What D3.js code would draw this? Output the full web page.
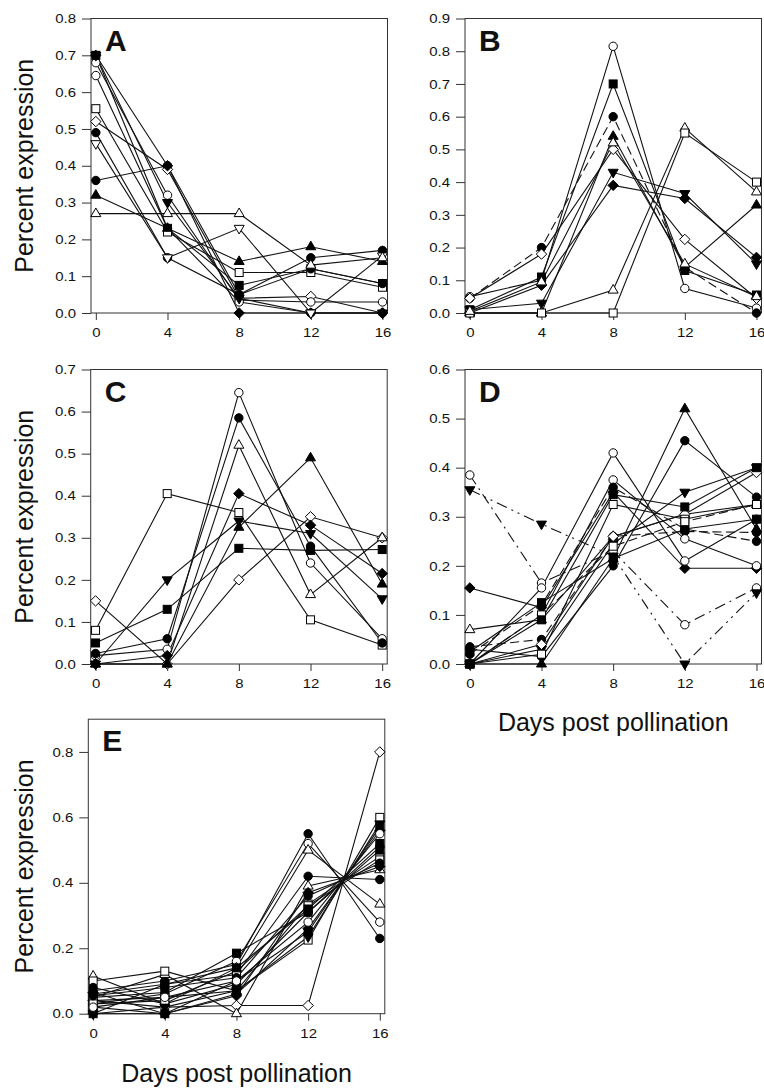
<!DOCTYPE html>
<html><head><meta charset="utf-8">
<script src="https://cdn.jsdelivr.net/npm/d3@7"></script>
<style>
body{margin:0;background:#fff}
svg{display:block}
text{font-family:"Liberation Sans",Arial,Helvetica,sans-serif;fill:#111}
</style>
</head><body>
<svg id="chart" width="764" height="1088"></svg>
<script>
// ---------------- DATA ----------------
const days = [0, 4, 8, 12, 16];
const xTickLabels = [0, 4, 8, 12, 16];
const panelLabels = ["A", "B", "C", "D", "E"];
const yAxisTitle = "Percent expression";
const xAxisTitle = "Days post pollination";

const yTicksA = [0, 0.1, 0.2, 0.3, 0.4, 0.5, 0.6, 0.7, 0.8];
const yTicksB = [0, 0.1, 0.2, 0.3, 0.4, 0.5, 0.6, 0.7, 0.8, 0.9];
const yTicksC = [0, 0.1, 0.2, 0.3, 0.4, 0.5, 0.6, 0.7];
const yTicksD = [0, 0.1, 0.2, 0.3, 0.4, 0.5, 0.6];
const yTicksE = [0, 0.2, 0.4, 0.6, 0.8];
const yMax = [0.8, 0.9, 0.7, 0.6, 0.9];

// marker codes: f/o = filled/open; c circle, s square, t triangle, d down-triangle, di diamond
const marksA = ["fc","odi","oc","oc","fs","os","fd","fdi","fc","od","ft","ot"];
const valuesA = [
  [0.36, 0.40, 0.05, 0.15, 0.17],
  [0.52, 0.39, 0.04, 0.045, 0.0],
  [0.68, 0.32, 0.035, 0.03, 0.03],
  [0.645, 0.23, 0.03, 0.0, 0.0],
  [0.70, 0.23, 0.075, 0.12, 0.08],
  [0.555, 0.22, 0.11, 0.11, 0.07],
  [0.70, 0.30, 0.04, 0.0, 0.0],
  [0.70, 0.40, 0.0, 0.0, 0.0],
  [0.49, 0.15, 0.05, 0.12, 0.08],
  [0.46, 0.15, 0.23, 0.0, 0.155],
  [0.32, 0.23, 0.14, 0.18, 0.14],
  [0.27, 0.27, 0.27, 0.13, 0.15]
];

const marksB = ["oc","fs","fc","ft","odi","fd","fdi","ot","os","ot"];
const linesB = ["solid","solid","dash","solid","solid","solid","solid","solid","solid","solid"];
const valuesB = [
  [0.05, 0.10, 0.815, 0.075, 0.015],
  [0.01, 0.11, 0.70, 0.13, 0.055],
  [0.045, 0.20, 0.60, 0.14, 0.0],
  [0.0, 0.0, 0.54, 0.14, 0.33],
  [0.045, 0.18, 0.50, 0.225, 0.045],
  [0.01, 0.03, 0.43, 0.365, 0.15],
  [0.0, 0.085, 0.39, 0.35, 0.17],
  [0.0, 0.0, 0.07, 0.565, 0.37],
  [0.0, 0.0, 0.0, 0.55, 0.40],
  [0.005, 0.095, 0.52, 0.15, 0.05]
];

const marksC = ["os","odi","fd","fs","oc","fc","ot","fdi","ft"];
const valuesC = [
  [0.08, 0.405, 0.36, 0.105, 0.045],
  [0.15, 0.0, 0.20, 0.35, 0.30],
  [0.0, 0.20, 0.34, 0.31, 0.155],
  [0.05, 0.13, 0.275, 0.27, 0.272],
  [0.02, 0.035, 0.645, 0.24, 0.06],
  [0.025, 0.06, 0.585, 0.28, 0.05],
  [0.0, 0.0, 0.52, 0.165, 0.30],
  [0.0, 0.02, 0.405, 0.33, 0.215],
  [0.0, 0.0, 0.325, 0.49, 0.19]
];

const marksD = ["oc","fd","fdi","ot","fc","oc","oc","fc","ft","fs","fd","odi","os","fc","os","fs"];
const linesD = ["dashdot","dashdotdot","solid","solid","dash","solid","solid","solid","solid","solid","solid","solid","solid","dash","dash","solid"];
const valuesD = [
  [0.385, 0.165, 0.23, 0.08, 0.155],
  [0.355, 0.285, 0.22, 0.0, 0.145],
  [0.155, 0.115, 0.35, 0.195, 0.195],
  [0.07, 0.09, 0.26, 0.305, 0.325],
  [0.035, 0.05, 0.26, 0.27, 0.268],
  [0.0, 0.155, 0.43, 0.21, 0.295],
  [0.0, 0.10, 0.375, 0.255, 0.20],
  [0.03, 0.015, 0.20, 0.455, 0.34],
  [0.0, 0.0, 0.215, 0.52, 0.275],
  [0.025, 0.125, 0.215, 0.275, 0.295],
  [0.0, 0.03, 0.245, 0.35, 0.40],
  [0.0, 0.04, 0.26, 0.305, 0.39],
  [0.0, 0.02, 0.325, 0.295, 0.325],
  [0.02, 0.12, 0.36, 0.275, 0.25],
  [0.0, 0.10, 0.24, 0.29, 0.325],
  [0.0, 0.09, 0.345, 0.32, 0.40]
];

const marksE = ["odi","fc","oc","ot","fc","ot","fdi","os","fs","fs","os","fc","os","fd","fc","fs","fdi","oc"];
const valuesE = [
  [0.04, 0.02, 0.025, 0.025, 0.80],
  [0.07, 0.10, 0.15, 0.55, 0.23],
  [0.03, 0.06, 0.16, 0.52, 0.28],
  [0.115, 0.03, 0.14, 0.50, 0.335],
  [0.06, 0.09, 0.12, 0.42, 0.41],
  [0.05, 0.12, 0.0, 0.39, 0.44],
  [0.0, 0.0, 0.055, 0.37, 0.45],
  [0.10, 0.13, 0.07, 0.335, 0.48],
  [0.05, 0.065, 0.185, 0.31, 0.50],
  [0.02, 0.0, 0.10, 0.25, 0.57],
  [0.04, 0.05, 0.07, 0.225, 0.60],
  [0.08, 0.03, 0.09, 0.31, 0.51],
  [0.03, 0.04, 0.13, 0.33, 0.47],
  [0.0, 0.02, 0.07, 0.235, 0.58],
  [0.055, 0.08, 0.11, 0.36, 0.46],
  [0.0, 0.09, 0.14, 0.32, 0.52],
  [0.065, 0.0, 0.06, 0.26, 0.56],
  [0.02, 0.05, 0.10, 0.28, 0.55]
];

// ---------------- LAYOUT ----------------
const svg = d3.select("#chart");
const PW = 296.5, PH = 294.5;
const layout = [
  {left: 91,   top: 18.5},
  {left: 465,  top: 18.5},
  {left: 90.7, top: 369.5},
  {left: 465,  top: 369.5},
  {left: 88.3, top: 719.2}
];
const panelData = [
  {values: valuesA, marks: marksA, lines: null, ticks: yTicksA},
  {values: valuesB, marks: marksB, lines: linesB, ticks: yTicksB},
  {values: valuesC, marks: marksC, lines: null, ticks: yTicksC},
  {values: valuesD, marks: marksD, lines: linesD, ticks: yTicksD},
  {values: valuesE, marks: marksE, lines: null, ticks: yTicksE}
];
const dashStyles = {solid: null, dash: "9,4.5", dashdot: "11,5,2,5", dashdotdot: "11,5,2,5,2,5"};

function drawMarker(g, type, x, y) {
  const filled = type[0] === "f";
  const shape = type.slice(1);
  const fill = filled ? "#000" : "#fff";
  let el;
  if (shape === "c") {
    el = g.append("circle").attr("cx", x).attr("cy", y).attr("r", 4.2);
  } else if (shape === "s") {
    el = g.append("rect").attr("x", x - 4).attr("y", y - 4).attr("width", 8).attr("height", 8);
  } else if (shape === "t") {
    el = g.append("path").attr("d", `M${x},${y-5.6}L${x+5},${y+3}L${x-5},${y+3}Z`);
  } else if (shape === "d") {
    el = g.append("path").attr("d", `M${x},${y+5.6}L${x+5},${y-3}L${x-5},${y-3}Z`);
  } else {
    el = g.append("path").attr("d", `M${x},${y-5.2}L${x+5.2},${y}L${x},${y+5.2}L${x-5.2},${y}Z`);
  }
  el.attr("fill", fill).attr("stroke", "#000").attr("stroke-width", 1);
}

layout.forEach((L, i) => {
  const P = panelData[i];
  const g = svg.append("g");
  const x = d3.scaleLinear().domain([-0.27, 16.28]).range([L.left, L.left + PW]);
  const y = d3.scaleLinear().domain([0, yMax[i]]).range([L.top + PH, L.top]);

  g.append("rect").attr("x", L.left).attr("y", L.top).attr("width", PW).attr("height", PH)
    .attr("fill", "none").attr("stroke", "#333").attr("stroke-width", 1);

  const ya = g.append("g").attr("transform", `translate(${L.left},0)`)
    .call(d3.axisLeft(y).tickValues(P.ticks).tickFormat(d3.format(".1f")).tickSize(9).tickPadding(6));
  const xa = g.append("g").attr("transform", `translate(0,${L.top + PH})`)
    .call(d3.axisBottom(x).tickValues(xTickLabels).tickFormat(d3.format("d")).tickSize(7).tickPadding(8));
  [ya, xa].forEach(a => {
    a.select(".domain").remove();
    a.selectAll(".tick line").attr("stroke", "#333");
    a.selectAll(".tick text").attr("font-size", 13).attr("fill", "#222")
      .style("font-family", '"Liberation Sans", Arial, sans-serif')
      .each(function () {
        const w = this.getComputedTextLength();
        d3.select(this).attr("textLength", w * 1.15).attr("lengthAdjust", "spacingAndGlyphs");
      });
  });

  const line = d3.line().x((d, j) => x(days[j])).y(d => y(d));
  P.values.forEach((vals, s) => {
    const style = P.lines ? P.lines[s] : "solid";
    g.append("path").attr("d", line(vals)).attr("fill", "none")
      .attr("stroke", "#111").attr("stroke-width", 1.1)
      .attr("stroke-dasharray", dashStyles[style]);
  });
  P.values.forEach((vals, s) => {
    vals.forEach((v, j) => drawMarker(g, P.marks[s], x(days[j]), y(v)));
  });

  g.append("text").attr("x", L.left + 14).attr("y", L.top + 32)
    .attr("font-size", 30).attr("font-weight", "bold").attr("fill", "#000").text(panelLabels[i]);

  if (i % 2 === 0) {
    g.append("text").attr("transform", `translate(33,${L.top + PH / 2}) rotate(-90)`)
      .attr("text-anchor", "middle").attr("font-size", 25).attr("fill", "#111").text(yAxisTitle);
  }
});

svg.append("text").attr("x", layout[3].left + PW / 2).attr("y", 731)
  .attr("text-anchor", "middle").attr("font-size", 25).attr("fill", "#111").text(xAxisTitle);
svg.append("text").attr("x", layout[4].left + PW / 2).attr("y", 1082)
  .attr("text-anchor", "middle").attr("font-size", 25).attr("fill", "#111").text(xAxisTitle);
</script>
</body></html>
